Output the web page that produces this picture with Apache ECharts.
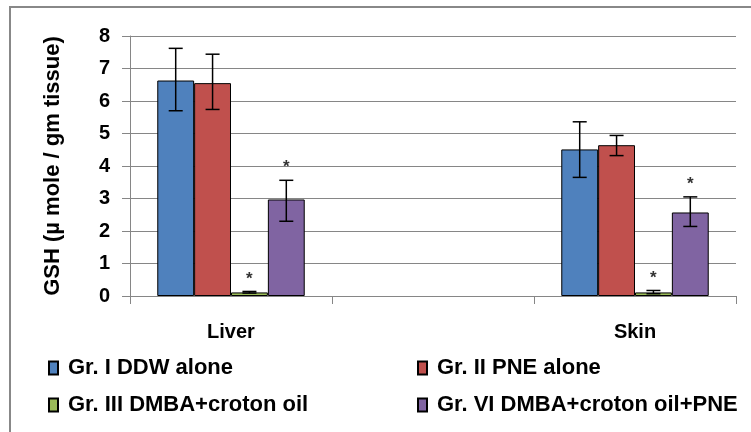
<!DOCTYPE html>
<html>
<head>
<meta charset="utf-8">
<script src="https://cdn.jsdelivr.net/npm/echarts@6/dist/echarts.min.js"></script>
<style>
  html, body { margin: 0; padding: 0; background: #fff; }
  #chart { width: 751px; height: 432px; }
</style>
</head>
<body>
<div id="chart"></div>
<script>
// categories (middle slot is empty in the original chart)
var categories = ['Liver', '', 'Skin'];
var seriesNames = ['Gr. I DDW alone', 'Gr. II PNE alone', 'Gr. III DMBA+croton oil', 'Gr. VI DMBA+croton oil+PNE'];
var colors = ['#4F81BD', '#C0504D', '#9BBB59', '#8064A2'];

// mean values per group (Liver, -, Skin)
var gr1 = [6.63, '-', 4.51];
var gr2 = [6.55, '-', 4.64];
var gr3 = [0.11, '-', 0.11];
var gr4 = [2.97, '-', 2.57];

// error bar low / high
var gr1Low = [5.70, '-', 3.65], gr1High = [7.62, '-', 5.36];
var gr2Low = [5.74, '-', 4.32], gr2High = [7.44, '-', 4.94];
var gr3Low = [0.09, '-', 0.07], gr3High = [0.14, '-', 0.17];
var gr4Low = [2.30, '-', 2.14], gr4High = [3.56, '-', 3.05];

// significance marks
var gr3Sig = [true, false, true];
var gr4Sig = [true, false, true];

var yTicks = [0, 1, 2, 3, 4, 5, 6, 7, 8];

var values = [gr1, gr2, gr3, gr4];
var lows = [gr1Low, gr2Low, gr3Low, gr4Low];
var highs = [gr1High, gr2High, gr3High, gr4High];
var sigs = [[false, false, false], [false, false, false], gr3Sig, gr4Sig];

var GAP = 0.27;
var FONT = 'Liberation Sans';

var chart = echarts.init(document.getElementById('chart'));

var series = [];
values.forEach(function (vals, i) {
  series.push({
    name: seriesNames[i],
    type: 'bar',
    data: vals,
    barGap: '0%',
    barCategoryGap: '27%',
    itemStyle: { color: colors[i], borderColor: '#000', borderWidth: 1 }
  });
});

values.forEach(function (vals, i) {
  var data = [];
  for (var c = 0; c < categories.length; c++) {
    if (vals[c] === '-') continue;
    data.push([c, lows[i][c], highs[i][c], sigs[i][c] ? 1 : 0]);
  }
  series.push({
    type: 'custom',
    name: 'err' + i,
    silent: true,
    z: 5,
    data: data,
    renderItem: function (params, api) {
      var c = api.value(0);
      var catW = api.size([1, 0])[0];
      var bw = catW * (1 - GAP) / 4;
      var center = api.coord([c, 0])[0] + (i - 1.5) * bw;
      var lo = api.coord([c, api.value(1)])[1];
      var hi = api.coord([c, api.value(2)])[1];
      var cap = 7;
      var st = { stroke: '#000', lineWidth: 1.5 };
      var children = [
        { type: 'line', shape: { x1: center, y1: lo, x2: center, y2: hi }, style: st },
        { type: 'line', shape: { x1: center - cap, y1: lo, x2: center + cap, y2: lo }, style: st },
        { type: 'line', shape: { x1: center - cap, y1: hi, x2: center + cap, y2: hi }, style: st }
      ];
      if (api.value(3)) {
        children.push({
          type: 'text',
          style: {
            text: '*', x: center, y: hi - 4,
            textAlign: 'center', textVerticalAlign: 'bottom',
            fontSize: 17, fontWeight: 'bold', fontFamily: FONT, fill: '#333'
          }
        });
      }
      return { type: 'group', children: children };
    }
  });
});

var legendText = { fontFamily: FONT, fontWeight: 'bold', fontSize: 22, color: '#000', lineHeight: 22, padding: [0, 0, 0, 5] };

chart.setOption({
  animation: false,
  backgroundColor: '#fff',
  graphic: [{
    type: 'rect',
    shape: { x: 10, y: 7, width: 800, height: 500 },
    style: { fill: 'none', stroke: '#888', lineWidth: 2 },
    silent: true
  }],
  grid: { left: 130, right: 15, top: 36, bottom: 136 },
  legend: [{
    data: [seriesNames[0], seriesNames[2]],
    orient: 'vertical',
    left: 48, top: 357, padding: 0,
    icon: 'rect',
    itemWidth: 9, itemHeight: 13, itemGap: 15,
    textStyle: legendText
  }, {
    data: [seriesNames[1], seriesNames[3]],
    orient: 'vertical',
    left: 417, top: 357, padding: 0,
    icon: 'rect',
    itemWidth: 9, itemHeight: 13, itemGap: 15,
    textStyle: legendText
  }],
  xAxis: {
    type: 'category',
    data: categories,
    axisLine: { lineStyle: { color: '#868686', width: 1 } },
    axisTick: { show: true, length: 8, lineStyle: { color: '#868686' } },
    axisLabel: { fontFamily: FONT, fontWeight: 'bold', fontSize: 20, color: '#000', margin: 26 }
  },
  yAxis: {
    type: 'value',
    min: yTicks[0],
    max: yTicks[yTicks.length - 1],
    interval: 1,
    name: 'GSH (µ mole / gm tissue)',
    nameLocation: 'middle',
    nameGap: 66,
    nameTextStyle: { fontFamily: FONT, fontWeight: 'bold', fontSize: 22, color: '#000' },
    axisLine: { show: true, lineStyle: { color: '#868686' } },
    axisTick: { show: true, inside: false, length: 8, lineStyle: { color: '#868686' } },
    axisLabel: { fontFamily: FONT, fontWeight: 'bold', fontSize: 20, color: '#000', margin: 20 },
    splitLine: { lineStyle: { color: '#868686', width: 1 } }
  },
  series: series
});
</script>
</body>
</html>
